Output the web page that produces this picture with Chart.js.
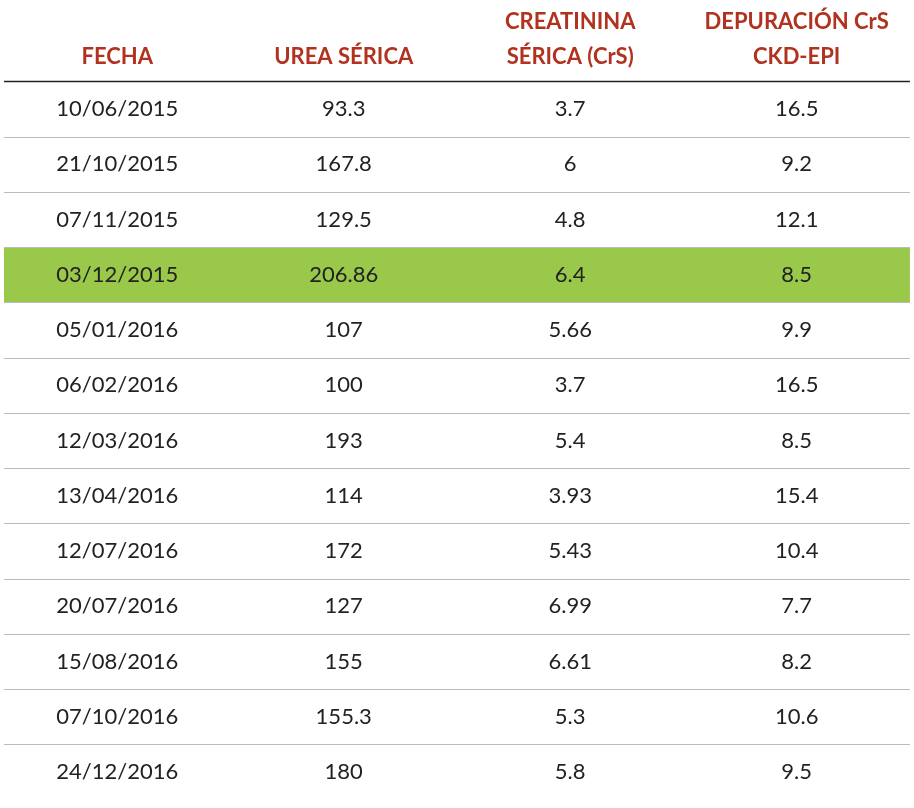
<!DOCTYPE html>
<html><head><meta charset="utf-8">
<script src="https://cdn.jsdelivr.net/npm/chart.js@4"></script>
<style>html,body{margin:0;padding:0;background:#fff}#w{width:914px;height:808px}</style>
</head><body><div id="w"><canvas id="c"></canvas></div>
<script>
const headers = [["FECHA"],["UREA SÉRICA"],["CREATININA","SÉRICA (CrS)"],["DEPURACIÓN CrS","CKD-EPI"]];
const fechas = ["10/06/2015","21/10/2015","07/11/2015","03/12/2015","05/01/2016","06/02/2016","12/03/2016","13/04/2016","12/07/2016","20/07/2016","15/08/2016","07/10/2016","24/12/2016"];
const urea = ["93.3","167.8","129.5","206.86","107","100","193","114","172","127","155","155.3","180"];
const creatinina = ["3.7","6","4.8","6.4","5.66","3.7","5.4","3.93","5.43","6.99","6.61","5.3","5.8"];
const depuracion = ["16.5","9.2","12.1","8.5","9.9","16.5","8.5","15.4","10.4","7.7","8.2","10.6","9.5"];
const highlightRow = 3;
const columns = [fechas, urea, creatinina, depuracion];

const tablePlugin = {
  id:'table',
  beforeDatasetsDraw(chart){
    const {ctx, scales:{x,y}} = chart;
    const L = x.getPixelForValue(0), R = x.getPixelForValue(4);
    ctx.save();
    // highlight
    ctx.fillStyle = '#99c84a';
    const t = y.getPixelForValue(highlightRow-0.5), b = y.getPixelForValue(highlightRow+0.5);
    ctx.fillRect(L, t, R-L, b-t);
    // separators
    for (let i=0;i<fechas.length;i++){
      const py = Math.round(y.getPixelForValue(i-0.5))+0.5;
      ctx.strokeStyle = i===0 ? '#222' : '#bbb';
      ctx.lineWidth = i===0 ? 1.5 : 1;
      ctx.beginPath(); ctx.moveTo(L,py); ctx.lineTo(R,py); ctx.stroke();
    }
    ctx.textAlign='center'; ctx.textBaseline='middle';
    // headers
    ctx.fillStyle='#b1321f'; ctx.font='bold 22px Lato';
    headers.forEach((h,c)=>{
      const px = x.getPixelForValue(c+0.5);
      if (h.length===1) ctx.fillText(h[0], px, y.getPixelForValue(-0.95));
      else { ctx.fillText(h[0], px, y.getPixelForValue(-1.57)); ctx.fillText(h[1], px, y.getPixelForValue(-0.95)); }
    });
    ctx.fillStyle='#222'; ctx.font='22px Lato';
    columns.forEach((col,c)=>{
      const px = x.getPixelForValue(c+0.5);
      col.forEach((v,r)=>ctx.fillText(v, px, y.getPixelForValue(r)));
    });
    ctx.restore();
  }
};

new Chart(document.getElementById('c'), {
  type:'scatter',
  data:{datasets:[{data:fechas.map((f,i)=>({x:0.5,y:i})), pointRadius:0}]},
  options:{
    responsive:true, maintainAspectRatio:false, animation:false,
    layout:{padding:0},
    plugins:{legend:{display:false}, tooltip:{enabled:false}},
    scales:{
      x:{type:'linear', min:-0.0177, max:4.018, display:false},
      y:{type:'linear', reverse:true, min:-1.973, max:12.65, display:false}
    }
  },
  plugins:[tablePlugin]
});
</script></body></html>
